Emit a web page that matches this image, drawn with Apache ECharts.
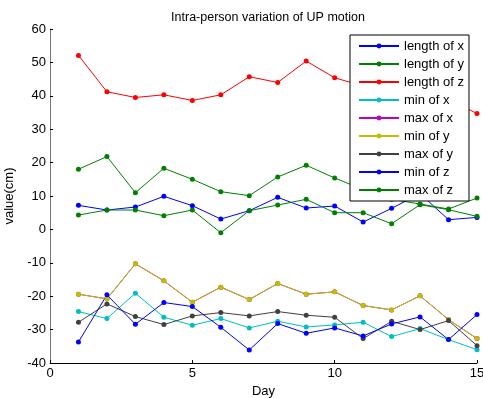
<!DOCTYPE html>
<html>
<head>
<meta charset="utf-8">
<script src="https://cdn.jsdelivr.net/npm/echarts@6/dist/echarts.min.js"></script>
<style>
  html, body { margin: 0; padding: 0; background: #fff; }
  #chart { width: 483px; height: 398px; }
</style>
</head>
<body>
<div id="chart"></div>
<script>
// days 1..15
var days = [1, 2, 3, 4, 5, 6, 7, 8, 9, 10, 11, 12, 13, 14, 15];

var lengthX = [7.2, 5.8, 6.7, 9.9, 7.1, 3.1, 5.6, 9.6, 6.4, 7.0, 2.2, 6.3, 10.7, 2.9, 3.6];
var lengthY = [18.0, 21.8, 11.0, 18.3, 15.0, 11.3, 10.1, 15.7, 19.2, 15.4, 11.9, 9.0, 7.6, 6.1, 9.4];
var lengthZ = [52.1, 41.2, 39.5, 40.3, 38.6, 40.3, 45.7, 44.0, 50.4, 45.4, 42.9, 41.5, 40.0, 38.9, 34.7];
var minX = [-24.6, -26.7, -19.1, -26.3, -28.7, -26.7, -29.5, -27.5, -29.2, -28.6, -27.8, -32.1, -29.7, -33.0, -36.0];
var maxX = [-19.4, -20.8, -10.3, -15.4, -21.8, -17.3, -21.0, -16.2, -19.4, -18.7, -22.8, -24.1, -19.9, -27.0, -32.7];
var minY = [-19.4, -20.8, -10.3, -15.4, -21.8, -17.3, -21.0, -16.2, -19.4, -18.7, -22.8, -24.1, -19.9, -27.0, -32.7];
var maxY = [-27.8, -22.3, -26.1, -28.5, -25.9, -24.9, -25.9, -24.6, -25.7, -26.3, -32.7, -27.5, -30.0, -27.3, -34.8];
var minZ = [-33.7, -19.6, -28.4, -21.9, -23.1, -29.3, -36.1, -28.2, -31.1, -29.5, -31.9, -28.3, -26.2, -33.0, -25.5];
var maxZ = [4.3, 5.8, 5.8, 4.1, 5.8, -1.0, 5.6, 7.3, 9.0, 5.0, 5.0, 1.7, 7.4, 5.9, 3.9];

var names = ['length of x', 'length of y', 'length of z', 'min of x', 'max of x',
             'min of y', 'max of y', 'min of z', 'max of z'];
var values = [lengthX, lengthY, lengthZ, minX, maxX, minY, maxY, minZ, maxZ];
var colors = ['#0000ff', '#008000', '#ff0000', '#00bfbf', '#bf00bf',
              '#bfbf00', '#404040', '#0000ff', '#008000'];

var font = 'Liberation Sans, Arial, Helvetica, sans-serif';

function pairs(vals) {
  return days.map(function (d, i) { return [d, vals[i]]; });
}

var chart = echarts.init(document.getElementById('chart'));

chart.setOption({
  animation: false,
  backgroundColor: '#fff',
  title: {
    text: 'Intra-person variation of UP motion',
    left: 263,
    textAlign: 'center',
    top: 6,
    textStyle: { fontFamily: font, fontSize: 12.5, fontWeight: 'normal', color: '#000' }
  },
  legend: {
    orient: 'vertical',
    left: 350,
    top: 35,
    padding: [4, 5, 4, 8],
    itemWidth: 40,
    itemHeight: 6,
    itemGap: 4,
    backgroundColor: '#fff',
    borderColor: '#000',
    borderWidth: 1,
    borderRadius: 0,
    textStyle: { fontFamily: font, fontSize: 13, color: '#000', lineHeight: 14 },
    data: names
  },
  grid: { left: 50, right: 6, top: 29, bottom: 35, containLabel: false, outerBoundsMode: 'none' },
  xAxis: {
    type: 'value',
    min: 0, max: 15, interval: 5,
    name: 'Day',
    nameLocation: 'middle',
    nameGap: 19,
    nameTextStyle: { fontFamily: font, fontSize: 13, color: '#000' },
    axisLine: { onZero: false, lineStyle: { color: '#000', width: 1 } },
    axisTick: { inside: true, length: 3, lineStyle: { color: '#000' } },
    axisLabel: { margin: 4, fontFamily: font, fontSize: 13, color: '#000' },
    splitLine: { show: false }
  },
  yAxis: {
    type: 'value',
    min: -40, max: 60, interval: 10,
    name: 'value(cm)',
    nameLocation: 'middle',
    nameRotate: 90,
    nameGap: 27,
    nameTextStyle: { fontFamily: font, fontSize: 13, color: '#000' },
    axisLine: { show: true, onZero: false, lineStyle: { color: '#777', width: 1 } },
    axisTick: { show: true, inside: true, length: 3, lineStyle: { color: '#000' } },
    axisLabel: { margin: 4, fontFamily: font, fontSize: 13, color: '#000' },
    splitLine: { show: false }
  },
  series: names.map(function (n, i) {
    return {
      name: n,
      type: 'line',
      data: pairs(values[i]),
      symbol: 'circle',
      symbolSize: 5,
      color: colors[i],
      lineStyle: { width: 1, color: colors[i] },
      itemStyle: { color: colors[i] }
    };
  })
});
</script>
</body>
</html>
